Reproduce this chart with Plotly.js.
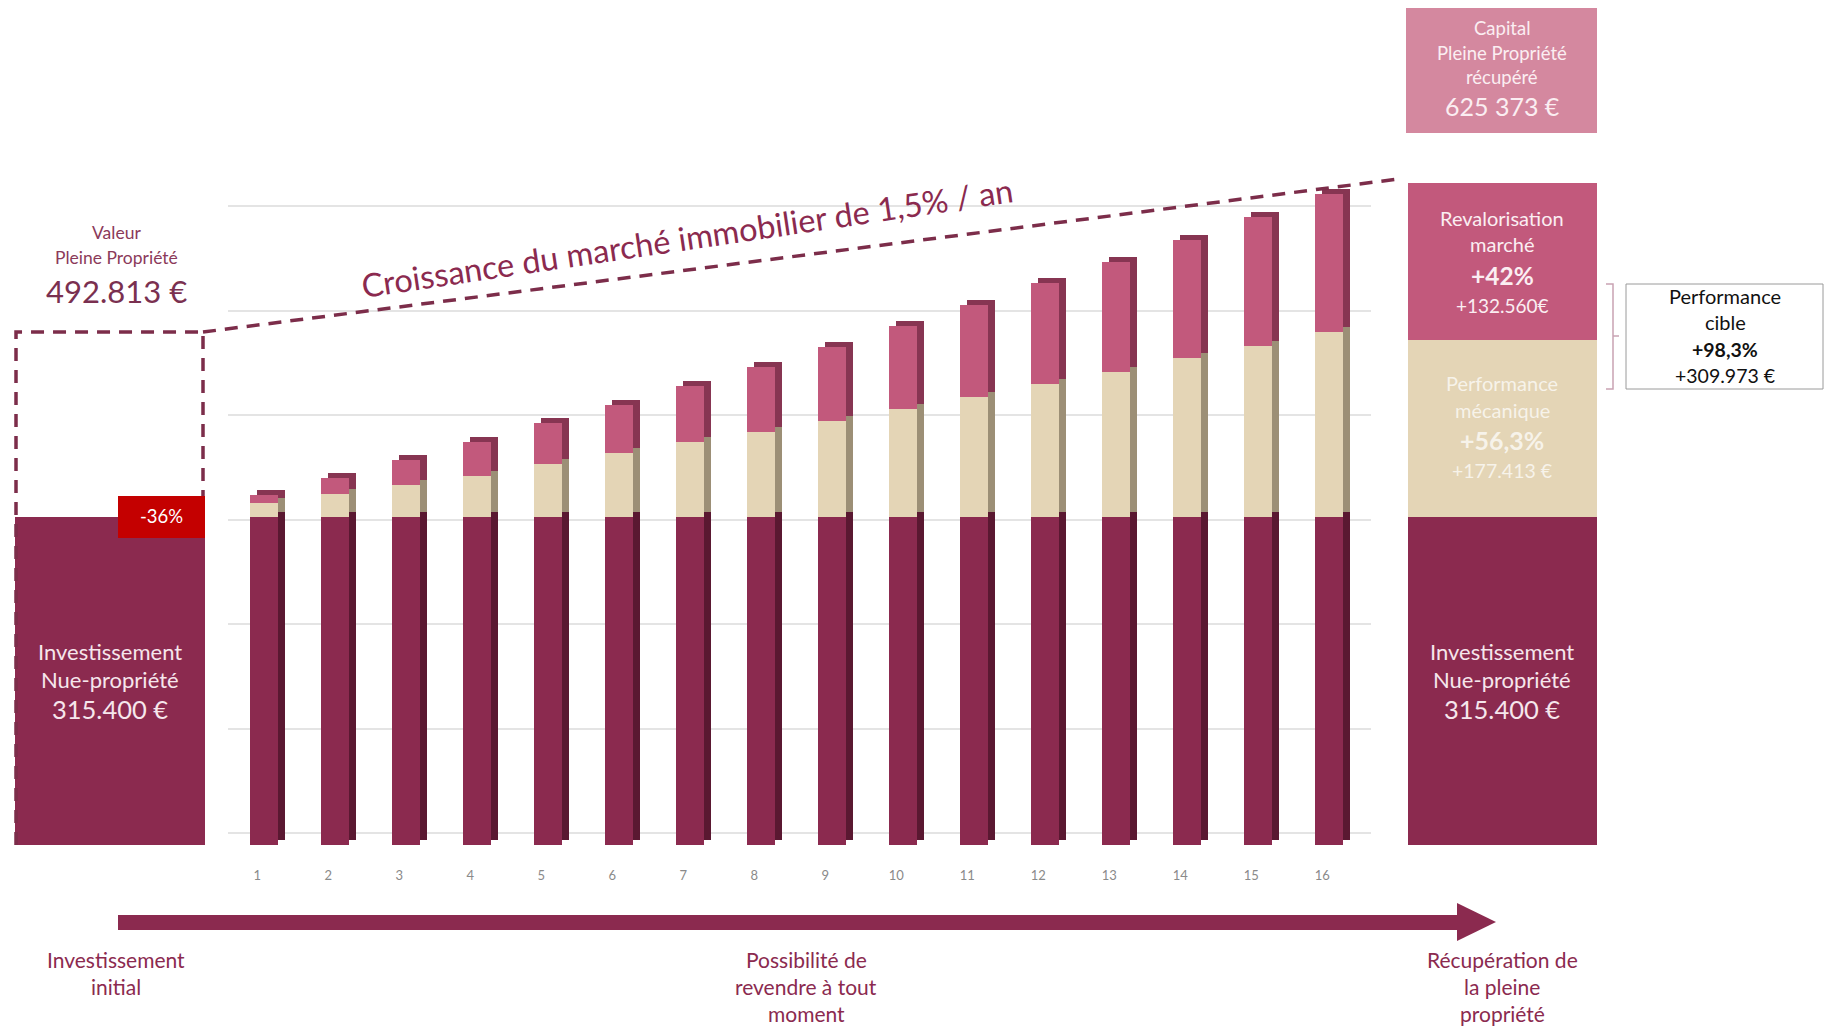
<!DOCTYPE html>
<html><head><meta charset="utf-8">
<script src="https://cdn.plot.ly/plotly-3.0.1.min.js"></script>
<style>html,body{margin:0;padding:0;background:#fff;}</style>
</head><body><div id="chart" style="width:1825px;height:1030px;"></div>
<script>
// ---------------- DATA ----------------
const years = [1, 2, 3, 4, 5, 6, 7, 8, 9, 10, 11, 12, 13, 14, 15, 16];
const yearLabels = ['1','2','3','4','5','6','7','8','9','10','11','12','13','14','15','16'];
const nuePropriete = [315400, 315400, 315400, 315400, 315400, 315400, 315400, 315400, 315400, 315400, 315400, 315400, 315400, 315400, 315400, 315400];
const perfMecanique = [12900, 21500, 30500, 39400, 50600, 61500, 71500, 81700, 91900, 103200, 115300, 127200, 139300, 152200, 164300, 177413];
const revalMarche = [8000, 15400, 24000, 32700, 39100, 45800, 53800, 62400, 71400, 80000, 88100, 97000, 105700, 113700, 123600, 132560];
const gridLevels = [0, 100000, 200000, 300000, 400000, 500000, 600000];
const investInitial = [315400];
const valeurPleinePropriete = 492813;
const growthEndValue = 640000;
const panelSegments = [315400, 169800, 150800]; // nue-propriété, perf. mécanique, revalorisation (as drawn)

// ---------------- GEOMETRY ----------------
const W = 1825, H = 1030;
const fx = px => px / W;
const fy = py => 1 - py / H;
const UNIT_PX = 71, BAR1_PX = 264, ZERO_PY = 845, EUR_PER_PX = 960.7;
const ux = px => 1 + (px - BAR1_PX) / UNIT_PX;
const vy = py => (ZERO_PY - py) * EUR_PER_PX;
const FRONT_W = 28.5 / UNIT_PX, SIDE_DX = 7 / UNIT_PX, CAP_DY = 5 * EUR_PER_PX;

const C = {
  dark: '#8b2a4f', darkSide: '#5a1831',
  beige: '#e4d5b6', beigeSide: '#9c8f76',
  pink: '#c2597c', pinkSide: '#873552',
  capital: '#d4889f', red: '#c40000', dash: '#7c2d4a'
};

const base2 = nuePropriete.map((v, i) => v + perfMecanique[i]);
const zeros = years.map(() => 0);
const segs = [
  {vals: nuePropriete, base: zeros, front: C.dark, side: C.darkSide},
  {vals: perfMecanique, base: nuePropriete, front: C.beige, side: C.beigeSide},
  {vals: revalMarche, base: base2, front: C.pink, side: C.pinkSide}
];

const traces = [];
// anchor trace for the grid / year-label subplot (draws nothing)
traces.push({type: 'scatter', mode: 'markers', x: years, y: years.map(() => null), xaxis: 'x', yaxis: 'y',
  hoverinfo: 'skip', showlegend: false, marker: {opacity: 0}});

segs.forEach(s => traces.push({
  type: 'bar', x: years, y: s.vals, base: s.base.map(b => b + CAP_DY),
  width: FRONT_W, offset: -FRONT_W / 2 + SIDE_DX,
  marker: {color: s.side, line: {width: 0}}, xaxis: 'x2', yaxis: 'y2', hoverinfo: 'skip', showlegend: false
}));
segs.forEach(s => traces.push({
  type: 'bar', x: years, y: s.vals, base: s.base,
  width: FRONT_W, offset: -FRONT_W / 2,
  marker: {color: s.front, line: {width: 0}}, xaxis: 'x2', yaxis: 'y2', hoverinfo: 'skip', showlegend: false
}));

// left panel (investissement initial)
const leftL = ux(15), leftR = ux(205);
traces.push({type: 'bar', x: [(leftL + leftR) / 2], y: investInitial, base: [0], width: leftR - leftL,
  marker: {color: C.dark, line: {width: 0}}, xaxis: 'x2', yaxis: 'y2', hoverinfo: 'skip', showlegend: false});
// right panel
const rightL = ux(1408), rightR = ux(1597);
const panelColors = [C.dark, C.beige, C.pink];
let acc = 0;
panelSegments.forEach((v, i) => {
  traces.push({type: 'bar', x: [(rightL + rightR) / 2], y: [v], base: [acc], width: rightR - rightL,
    marker: {color: panelColors[i], line: {width: 0}}, xaxis: 'x2', yaxis: 'y2', hoverinfo: 'skip', showlegend: false});
  acc += v;
});

// dashed "valeur pleine propriété" box
const dl = ux(16), dr = ux(203);
traces.push({type: 'scatter', mode: 'lines', x: [dl, dl, dr, dr], y: [0, valeurPleinePropriete, valeurPleinePropriete, investInitial[0]],
  line: {color: C.dash, width: 3.5, dash: '13px,9px'}, xaxis: 'x2', yaxis: 'y2', hoverinfo: 'skip', showlegend: false});
// growth line
traces.push({type: 'scatter', mode: 'lines', x: [dr, ux(1400)], y: [valeurPleinePropriete, growthEndValue],
  line: {color: C.dash, width: 3.5, dash: '13px,9px'}, xaxis: 'x2', yaxis: 'y2', hoverinfo: 'skip', showlegend: false});

// ---------------- ANNOTATIONS ----------------
const FONT = 'Lato, "Noto Sans", sans-serif';
const ann = [];
function T(text, px, py, size, color, extra) {
  ann.push(Object.assign({text: text, xref: 'paper', yref: 'paper', x: fx(px), y: fy(py), xanchor: 'center', yanchor: 'middle',
    showarrow: false, font: {family: FONT, size: size, color: color}}, extra || {}));
}
const maroon = '#8b2a4f', light = '#f6e6ec';
T('Valeur', 117, 232, 17.5, '#8b3a5a');
T('Pleine Propriété', 117, 257, 17.5, '#8b3a5a');
T('492.813 €', 117, 291, 31, '#7a3050');
T('-36%', 161, 516, 18.5, '#ffffff');
T('Investissement', 110, 651, 22, light);
T('Nue-propriété', 110, 679, 22, light);
T('315.400 €', 110, 709, 25.5, light);

const cap = '#fbeef2';
T('Capital', 1502, 28, 18.5, cap);
T('Pleine Propriété', 1502, 53, 18.5, cap);
T('récupéré', 1502, 77, 18.5, cap);
T('625 373 €', 1502, 106, 25, cap);
T('Revalorisation', 1502, 218, 20, cap);
T('marché', 1502, 244, 20, cap);
T('<b>+42%</b>', 1502, 275, 24.5, cap);
T('+132.560€', 1502, 305, 19, cap);
const faint = 'rgba(255,255,255,0.72)';
T('Performance', 1502, 383, 20, faint);
T('mécanique', 1502, 410, 20, faint);
T('<b>+56,3%</b>', 1502, 440, 25, faint);
T('+177.413 €', 1502, 470, 19.5, faint);
T('Investissement', 1502, 651, 22, light);
T('Nue-propriété', 1502, 679, 22, light);
T('315.400 €', 1502, 709, 25.5, light);

T('Performance', 1725, 296, 20, '#111');
T('cible', 1725, 322, 20, '#111');
T('<b>+98,3%</b>', 1725, 349, 19.5, '#111');
T('+309.973 €', 1725, 375, 19.5, '#111');

T('Croissance du marché immobilier de 1,5% / an', 687, 237, 32.5, maroon, {textangle: -8.4});

T('Investissement', 116, 959, 21, maroon);
T('initial', 116, 986, 21, maroon);
T('Possibilité de', 806, 959, 21, maroon);
T('revendre à tout', 806, 986, 21, maroon);
T('moment', 806, 1013, 21, maroon);
T('Récupération de', 1502, 959, 21, maroon);
T('la pleine', 1502, 986, 21, maroon);
T('propriété', 1502, 1013, 21, maroon);

// ---------------- SHAPES ----------------
const shapes = [];
function R(x0, y0, x1, y1, fill, line) {
  shapes.push({type: 'rect', xref: 'paper', yref: 'paper', x0: fx(x0), x1: fx(x1), y0: fy(y0), y1: fy(y1),
    fillcolor: fill, line: line || {width: 0}, layer: 'above'});
}
function Pth(pts, fill, line, close) {
  const d = pts.map((p, i) => (i ? 'L' : 'M') + fx(p[0]) + ',' + fy(p[1])).join(' ') + (close ? ' Z' : '');
  shapes.push({type: 'path', xref: 'paper', yref: 'paper', path: d, fillcolor: fill || 'rgba(0,0,0,0)', line: line || {width: 0}, layer: 'above'});
}
R(1406, 8, 1597, 133, C.capital);
R(118, 496, 205, 538, C.red);
R(1626, 284, 1823, 389, '#ffffff', {color: '#9a9a9a', width: 1});
Pth([[1606, 284], [1613, 284], [1613, 389], [1606, 389]], null, {color: '#c9a3b3', width: 1.5});
Pth([[1613, 336], [1619, 336]], null, {color: '#c9a3b3', width: 1.5});
R(118, 915, 1460, 930, maroon);
Pth([[1457, 903], [1496, 922], [1457, 941]], maroon, {width: 0}, true);

// ---------------- LAYOUT ----------------
const layout = {
  width: W, height: H,
  margin: {l: 0, r: 0, t: 0, b: 0, pad: 0},
  paper_bgcolor: '#ffffff', plot_bgcolor: 'rgba(0,0,0,0)',
  showlegend: false, barmode: 'overlay', bargap: 0,
  font: {family: FONT},
  xaxis: {domain: [fx(228), fx(1371)], anchor: 'y', range: [1 + (228 - 257.3) / UNIT_PX, 1 + (1371 - 257.3) / UNIT_PX],
    tickmode: 'array', tickvals: years, ticktext: yearLabels, ticks: '', showgrid: false, zeroline: false, showline: false,
    tickfont: {family: FONT, size: 13, color: '#8a8a8a'}, fixedrange: true},
  yaxis: {domain: [fy(866), 1], anchor: 'x', range: [(833 - 866) / 104.5 * 100000, 833 / 104.5 * 100000],
    tickmode: 'array', tickvals: gridLevels, showticklabels: false, ticks: '', showgrid: true, gridcolor: '#e4e4e4', gridwidth: 2,
    zeroline: false, showline: false, fixedrange: true},
  xaxis2: {domain: [0, 1], anchor: 'y2', range: [ux(0), ux(W)], visible: false, fixedrange: true},
  yaxis2: {domain: [0, 1], anchor: 'x2', range: [vy(H), vy(0)], visible: false, fixedrange: true},
  annotations: ann,
  shapes: shapes
};

Plotly.newPlot('chart', traces, layout, {displayModeBar: false, staticPlot: true});
</script>
</body></html>
